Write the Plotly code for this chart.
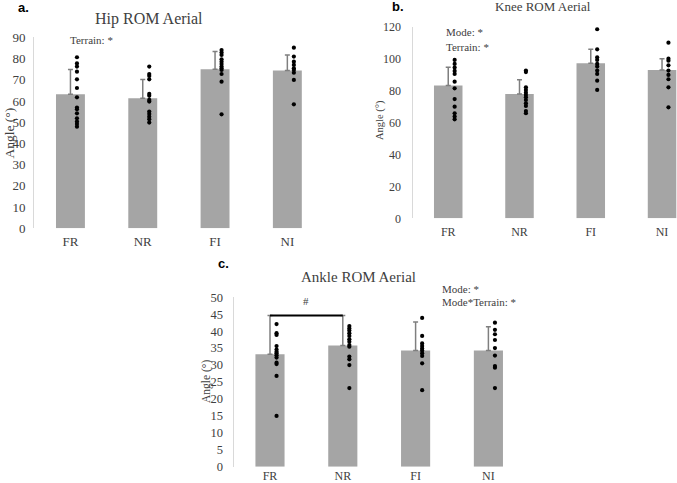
import plotly.graph_objects as go

categories = ["FR", "NR", "FI", "NI"]

# Panel a: Hip
hip_means = [63.2, 61.3, 75.0, 74.3]
hip_err = [11.6, 8.8, 8.3, 7.4]
hip_points = [
    [80.6, 77.7, 76.2, 73.8, 70.2, 66.1, 61.7, 56.9, 56.1, 54.2, 51.8, 50.3, 49.2, 47.9],
    [76.2, 72.7, 71.8, 70.2, 63.3, 62.4, 60.5, 59.7, 55.0, 53.9, 52.6, 51.4, 49.8],
    [84.0, 82.8, 81.7, 79.6, 78.5, 77.4, 76.2, 75.4, 74.6, 72.7, 69.1, 53.7],
    [85.1, 80.9, 78.5, 77.0, 75.4, 74.6, 73.3, 69.9, 58.4],
]

# Panel b: Knee
knee_means = [83.1, 77.9, 97.1, 92.9]
knee_err = [11.5, 8.9, 8.7, 7.1]
knee_points = [
    [99.2, 96.7, 94.4, 92.3, 90.4, 85.6, 81.4, 74.7, 69.9, 65.8, 63.7, 62.0],
    [92.5, 91.6, 82.0, 80.4, 78.7, 77.2, 75.8, 74.1, 72.0, 70.4, 67.2, 65.8],
    [118.4, 105.8, 100.8, 99.2, 96.7, 95.0, 92.5, 90.4, 86.2, 80.4],
    [110.0, 100.0, 98.7, 95.8, 92.5, 89.8, 87.1, 82.0, 69.5],
]

# Panel c: Ankle
ankle_means = [33.2, 35.8, 34.3, 34.3]
ankle_err = [11.4, 8.8, 8.4, 7.0]
ankle_points = [
    [42.1, 39.4, 38.9, 35.6, 34.6, 33.9, 33.5, 32.9, 32.2, 30.7, 30.3, 26.8, 15.0],
    [41.5, 40.8, 40.2, 39.4, 38.6, 37.6, 36.9, 35.9, 35.4, 32.5, 31.7, 30.0, 23.2],
    [43.9, 38.6, 36.4, 35.6, 34.9, 34.3, 33.5, 32.7, 30.5, 22.6],
    [42.5, 40.4, 39.1, 37.4, 35.0, 32.8, 29.7, 29.2, 23.2],
]
sig_bracket_y = 44.6

W, H = 677, 483
BAR = "#a5a5a5"
SERIF = "Liberation Serif"
TXT = "#404040"
idx = list(range(len(categories)))
dot_offset = 0.09

fig = go.Figure()

def px(x):
    return x / W

def py(y):
    return 1 - y / H

panels = [
    dict(means=hip_means, err=hip_err, pts=hip_points, xa="x", ya="y"),
    dict(means=knee_means, err=knee_err, pts=knee_points, xa="x2", ya="y2"),
    dict(means=ankle_means, err=ankle_err, pts=ankle_points, xa="x3", ya="y3"),
]

for p in panels:
    fig.add_trace(go.Bar(
        x=idx, y=p["means"], width=0.4, marker=dict(color=BAR, line=dict(width=0)),
        error_y=dict(type="data", array=p["err"], symmetric=False, arrayminus=[0]*4,
                     color="#7f7f7f", thickness=1.5, width=2.5),
        xaxis=p["xa"], yaxis=p["ya"], showlegend=False, hoverinfo="skip"))
    xs, ys = [], []
    for i, vals in enumerate(p["pts"]):
        for v in vals:
            xs.append(i + dot_offset)
            ys.append(v)
    fig.add_trace(go.Scatter(
        x=xs, y=ys, mode="markers", marker=dict(color="black", size=4.2),
        xaxis=p["xa"], yaxis=p["ya"], showlegend=False, hoverinfo="skip", cliponaxis=False))

# significance bracket in panel c
fig.add_trace(go.Scatter(
    x=[0, 1], y=[sig_bracket_y, sig_bracket_y], mode="lines",
    line=dict(color="black", width=2), xaxis="x3", yaxis="y3",
    showlegend=False, hoverinfo="skip", cliponaxis=False))

def yax(domain, rng, dtick, fs, anchor, standoff):
    return dict(domain=domain, range=rng, dtick=dtick, showgrid=False, zeroline=False,
                showline=True, linecolor="#d9d9d9", linewidth=1.2, ticks="",
                ticklabelstandoff=standoff, tickfont=dict(family=SERIF, size=fs, color=TXT),
                anchor=anchor, automargin=False, fixedrange=True)

def xax(domain, rng, anchor, fs, standoff):
    return dict(domain=domain, range=rng, tickmode="array", tickvals=idx, ticktext=categories,
                showgrid=False, zeroline=False, showline=False, ticks="",
                ticklabelstandoff=standoff, tickfont=dict(family=SERIF, size=fs, color=TXT),
                anchor=anchor, automargin=False, fixedrange=True)

fig.update_layout(
    width=W, height=H, autosize=False, margin=dict(l=0, r=0, t=0, b=0, pad=0),
    paper_bgcolor="white", plot_bgcolor="white", bargap=0.6,
    xaxis=xax([px(34.3), px(323.5)], [-0.5, 3.5], "y", 13, 4),
    yaxis=yax([py(228.3), py(37.3)], [0, 90], 10, 13, "x", 5),
    xaxis2=xax([px(412.6), 1.0], [-0.5, 3.21], "y2", 12, 5),
    yaxis2=yax([py(218.3), py(26.7)], [0, 120], 20, 12, "x2", 8),
    xaxis3=xax([px(233.6), px(524.8)], [-0.5, 3.5], "y3", 12, 0),
    yaxis3=yax([py(466.7), py(297.3)], [0, 50], 5, 12.5, "x3", 7),
)

def ann(text, x, y, size, family=SERIF, color=TXT, xanchor="center", angle=0, bold=False):
    fig.add_annotation(text=("<b>%s</b>" % text) if bold else text, x=px(x), y=py(y),
                       xref="paper", yref="paper", showarrow=False, xanchor=xanchor,
                       yanchor="middle", textangle=angle,
                       font=dict(family=family, size=size, color=color))

# panel letters
ann("a.", 15.5, 7.5, 13, family="Liberation Sans", color="black", xanchor="left", bold=True)
ann("b.", 389.5, 6, 13, family="Liberation Sans", color="black", xanchor="left", bold=True)
ann("c.", 216, 263, 13, family="Liberation Sans", color="black", xanchor="left", bold=True)

# titles
ann("Hip ROM Aerial", 149, 19, 16)
ann("Knee ROM Aerial", 543, 6, 13)
ann("Ankle ROM Aerial", 358, 277, 15)

# y-axis labels
ann("Angle (°)", 8.5, 133, 13.5, angle=-90)
ann("Angle (°)", 380, 120, 10.5, angle=-90)
ann("Angle (°)", 206, 382, 11.5, angle=-90)

# stats notes
ann("Terrain: *", 68, 40, 11, xanchor="left")
ann("Mode: *", 444, 32, 11, xanchor="left")
ann("Terrain: *", 444, 47, 11, xanchor="left")
ann("Mode: *", 439.5, 288.5, 11, xanchor="left")
ann("Mode*Terrain: *", 439.5, 302, 11, xanchor="left")
ann("#", 306, 301, 11)

fig.write_html("out.html", config={"displayModeBar": False},
               post_script="document.body.style.margin='0';document.body.style.padding='0';")
